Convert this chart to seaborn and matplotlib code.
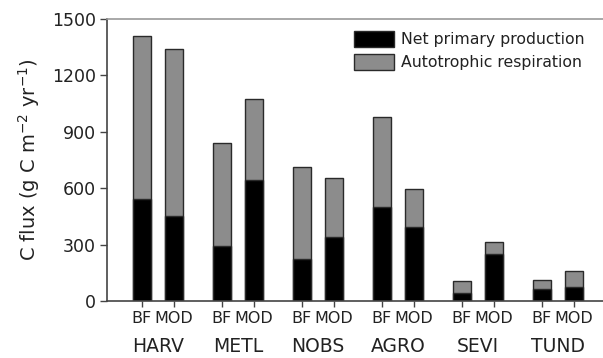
import matplotlib
matplotlib.use("Agg")
import matplotlib.pyplot as plt
import matplotlib.patches as mpatches
import matplotlib.transforms as mtransforms
import seaborn as sns
import pandas as pd

sites = ["HARV", "METL", "NOBS", "AGRO", "SEVI", "TUND"]
sources = ["BF", "MOD"]
total_flux = [1410, 1342, 840, 1073, 711, 656, 977, 596, 106, 312, 110, 161]
npp = [540, 452, 292, 644, 222, 339, 502, 392, 44, 248, 62, 76]
yticks = [0, 300, 600, 900, 1200, 1500]

positions = []
labels = []
for g, s in enumerate(sites):
    for k, src in enumerate(sources):
        positions.append(2.5 * g + (k - 0.5))
        labels.append(src)

df = pd.DataFrame({"pos": positions, "total": total_flux, "npp": npp, "src": labels})

sns.set_style("ticks")
plt.rcParams["font.family"] = ["DejaVu Sans"]

fig = plt.figure(figsize=(6.03, 3.58), dpi=100)
ax = fig.add_axes([107 / 603, 57 / 358, 1 - 107 / 603, (301 - 19) / 358])

grey = "#8c8c8c"
edge = "#2a2a2a"
sns.barplot(data=df, x="pos", y="total", native_scale=True, color=grey,
            saturation=1, width=0.56, edgecolor=edge, linewidth=1.0, ax=ax,
            errorbar=None)
sns.barplot(data=df, x="pos", y="npp", native_scale=True, color="black",
            saturation=1, width=0.56, edgecolor=edge, linewidth=1.0, ax=ax,
            errorbar=None)

ax.set_xlim(-1.586, 13.91)
ax.set_ylim(0, 1500)
ax.set_yticks(yticks)
ax.set_yticklabels([str(v) for v in yticks], fontsize=12.5, color="#222222")
ax.set_xticks(positions)
ax.set_xticklabels(labels, fontsize=11.5, color="#222222")
ax.tick_params(axis="x", length=4, width=1, pad=3, colors="#444444", labelcolor="#222222")
ax.tick_params(axis="y", length=5, width=1, pad=3, colors="#444444", labelcolor="#222222")
ax.set_xlabel("")
ax.set_ylabel("C flux (g C m$^{-2}$ yr$^{-1}$)", fontsize=14, color="#222222", labelpad=7)

for sp in ["left", "bottom"]:
    ax.spines[sp].set_color("#444444")
    ax.spines[sp].set_linewidth(1.2)
ax.spines["top"].set_color("#999999")
ax.spines["top"].set_linewidth(1.2)
ax.spines["right"].set_visible(False)

trans = mtransforms.blended_transform_factory(ax.transData, fig.transFigure)
for g, s in enumerate(sites):
    ax.text(2.5 * g, 1 - 346 / 358, s, transform=trans, ha="center", va="center",
            fontsize=13.5, color="#222222", clip_on=False)

handles = [mpatches.Patch(facecolor="black", edgecolor=edge, label="Net primary production"),
           mpatches.Patch(facecolor=grey, edgecolor=edge, label="Autotrophic respiration")]
leg = ax.legend(handles=handles, loc="upper left", bbox_to_anchor=(351 / 603, 1 - 28 / 358),
                bbox_transform=fig.transFigure, frameon=False, fontsize=11.3,
                handlelength=2.55, handleheight=1.15, labelspacing=0.45, handletextpad=0.45,
                borderpad=0.2, borderaxespad=0)
for t in leg.get_texts():
    t.set_color("#222222")

fig.savefig("out.png", dpi=100)
